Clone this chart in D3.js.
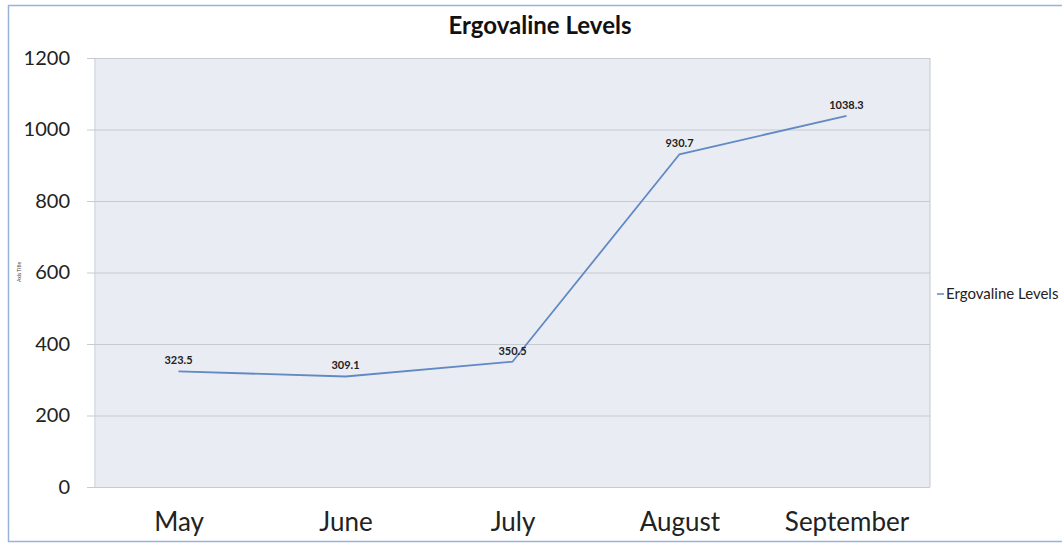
<!DOCTYPE html>
<html>
<head>
<meta charset="utf-8">
<script src="https://cdn.jsdelivr.net/npm/d3@7"></script>
<style>
  body { margin: 0; background: #fff; }
  text { font-family: Lato, "Open Sans", sans-serif; }
</style>
</head>
<body>
<div id="chart"></div>
<script>
var months = ["May", "June", "July", "August", "September"];
var levels = [323.5, 309.1, 350.5, 930.7, 1038.3];
var yTicks = [0, 200, 400, 600, 800, 1000, 1200];
var seriesName = "Ergovaline Levels";

var width = 1062, height = 544;
var plot = { left: 95, top: 58, right: 930, bottom: 487 };

var svg = d3.select("#chart").append("svg")
    .attr("width", width)
    .attr("height", height);

// outer chart border
svg.append("rect")
    .attr("x", 8.5).attr("y", 5.5)
    .attr("width", 1070).attr("height", 536)
    .attr("fill", "#fff")
    .attr("stroke", "#98b3d6")
    .attr("stroke-width", 1.5);

var x = d3.scalePoint()
    .domain(months)
    .range([plot.left, plot.right])
    .padding(0.5);

var y = d3.scaleLinear()
    .domain([0, 1200])
    .range([plot.bottom, plot.top]);

// plot background
svg.append("rect")
    .attr("x", plot.left).attr("y", plot.top)
    .attr("width", plot.right - plot.left)
    .attr("height", plot.bottom - plot.top)
    .attr("fill", "#e9edf3")
    .attr("stroke", "none");

// plot area edges
svg.append("line")
    .attr("x1", plot.right).attr("x2", plot.right)
    .attr("y1", plot.top).attr("y2", plot.bottom)
    .attr("stroke", "#c3c8d0");
svg.append("line")
    .attr("x1", plot.left).attr("x2", plot.left)
    .attr("y1", plot.top).attr("y2", plot.bottom)
    .attr("stroke", "#dde1e8").attr("stroke-width", 2);

// y axis with gridlines
var yAxis = d3.axisLeft(y)
    .tickValues(yTicks)
    .tickSize(-(plot.right - plot.left + 8))
    .tickFormat(d3.format("d"));

var yg = svg.append("g")
    .attr("transform", "translate(" + (plot.left - 8) + ",0)")
    .call(yAxis);
yg.select(".domain").remove();
yg.selectAll(".tick line")
    .attr("stroke", "#c6cad1");
yg.selectAll(".tick text")
    .attr("x", -17)
    .attr("fill", "#222")
    .attr("font-size", "20px")
    .attr("font-family", "Lato, sans-serif");

// x axis labels
var xAxis = d3.axisBottom(x).tickSize(0).tickPadding(26);
var xg = svg.append("g")
    .attr("transform", "translate(0," + plot.bottom + ")")
    .call(xAxis);
xg.select(".domain").remove();
xg.selectAll(".tick text")
    .attr("fill", "#222")
    .attr("font-size", "26px")
    .attr("font-family", "Lato, sans-serif");

// series line
var line = d3.line()
    .x(function(d, i) { return x(months[i]); })
    .y(function(d) { return y(d); });

svg.append("path")
    .datum(levels)
    .attr("fill", "none")
    .attr("stroke", "#6189c4")
    .attr("stroke-width", 1.8)
    .attr("d", line);

// data labels
svg.selectAll(".dlabel")
    .data(levels)
    .enter()
    .append("text")
    .attr("class", "dlabel")
    .attr("x", function(d, i) { return x(months[i]); })
    .attr("y", function(d) { return y(d) - 7; })
    .attr("text-anchor", "middle")
    .attr("font-size", "11px")
    .attr("font-weight", "bold")
    .attr("fill", "#222")
    .text(function(d) { return d3.format(".1f")(d); });

// title
svg.append("text")
    .attr("x", 540).attr("y", 34)
    .attr("text-anchor", "middle")
    .attr("font-size", "24px")
    .attr("font-weight", "bold")
    .attr("fill", "#111")
    .text(seriesName);

// axis title
svg.append("text")
    .attr("transform", "translate(21,272) rotate(-90)")
    .attr("text-anchor", "middle")
    .attr("font-size", "5px")
    .attr("fill", "#444")
    .text("Axis Title");

// legend
svg.append("line")
    .attr("x1", 937).attr("x2", 944)
    .attr("y1", 294).attr("y2", 294)
    .attr("stroke", "#6189c4")
    .attr("stroke-width", 1.5);
svg.append("text")
    .attr("x", 946).attr("y", 299)
    .attr("font-size", "15px")
    .attr("fill", "#222")
    .text(seriesName);
</script>
</body>
</html>
